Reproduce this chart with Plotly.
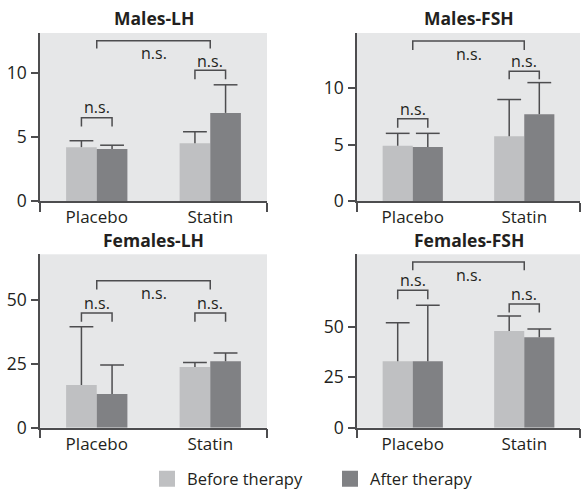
import plotly.graph_objects as go

groups = ["Placebo", "Statin"]
series_names = ["Before therapy", "After therapy"]
panel_titles = ["Males-LH", "Males-FSH", "Females-LH", "Females-FSH"]

# bar means (Placebo, Statin)
males_lh_before = [4.2, 4.5]
males_lh_after = [4.06, 6.87]
males_fsh_before = [4.9, 5.75]
males_fsh_after = [4.78, 7.7]
females_lh_before = [16.7, 23.8]
females_lh_after = [13.2, 26.1]
females_fsh_before = [33.0, 47.9]
females_fsh_after = [33.0, 44.9]

# upper error (SD) lengths
males_lh_before_err = [0.5, 0.9]
males_lh_after_err = [0.29, 2.19]
males_fsh_before_err = [1.1, 3.25]
males_fsh_after_err = [1.22, 2.8]
females_lh_before_err = [22.9, 1.8]
females_lh_after_err = [11.4, 3.2]
females_fsh_before_err = [19.0, 7.5]
females_fsh_after_err = [27.7, 4.0]

# significance annotations: [placebo pair, statin pair, between groups]
sig_labels = ["n.s.", "n.s.", "n.s."]
males_lh_sig_hi = [6.5, 10.2, 12.5]
males_lh_sig_lo = [5.8, 9.5, 11.9]
males_lh_sig_txt = [7.3, 10.9, 11.55]
males_fsh_sig_hi = [7.3, 11.5, 14.2]
males_fsh_sig_lo = [6.5, 10.8, 13.4]
males_fsh_sig_txt = [8.2, 12.4, 13.05]
females_lh_sig_hi = [45.0, 45.0, 57.6]
females_lh_sig_lo = [41.5, 41.5, 54.2]
females_lh_sig_txt = [49.0, 49.0, 52.9]
females_fsh_sig_hi = [68.2, 61.4, 82.2]
females_fsh_sig_lo = [63.7, 57.1, 78.1]
females_fsh_sig_txt = [73.1, 66.5, 75.9]

y_max = [13.1, 14.9, 68.0, 86.0]
y_ticks = [[0, 5, 10], [0, 5, 10], [0, 25, 50], [0, 25, 50]]

panels = [
    (males_lh_before, males_lh_after, males_lh_before_err, males_lh_after_err,
     males_lh_sig_hi, males_lh_sig_lo, males_lh_sig_txt),
    (males_fsh_before, males_fsh_after, males_fsh_before_err, males_fsh_after_err,
     males_fsh_sig_hi, males_fsh_sig_lo, males_fsh_sig_txt),
    (females_lh_before, females_lh_after, females_lh_before_err, females_lh_after_err,
     females_lh_sig_hi, females_lh_sig_lo, females_lh_sig_txt),
    (females_fsh_before, females_fsh_after, females_fsh_before_err, females_fsh_after_err,
     females_fsh_sig_hi, females_fsh_sig_lo, females_fsh_sig_txt),
]

W, H = 581, 493
FONT = "Open Sans"
TXT = "#231f20"
LINE = "#4d4d4f"
C_BEFORE = "#bfc0c2"
C_AFTER = "#808184"
BG = "#e6e7e8"

x_dom = [(40 / W, 267 / W), (357 / W, 580 / W)]
y_dom = [(1 - 201 / H, 1 - 33 / H), (1 - 427.7 / H, 1 - 254.3 / H)]

BARGAP = 0.46
half = (1 - BARGAP) / 4  # offset of each bar centre from group centre
xpos = list(range(len(groups)))

fig = go.Figure()
layout = {}
annotations = []

for i, (b, a, be, ae, hi, lo, tt) in enumerate(panels):
    n = i + 1
    xa = "x" if n == 1 else f"x{n}"
    ya = "y" if n == 1 else f"y{n}"
    col, row = i % 2, i // 2
    series = [(b, be, series_names[0], C_BEFORE, -half),
              (a, ae, series_names[1], C_AFTER, half)]
    for vals, errs, name, color, off in series:
        fig.add_trace(go.Bar(
            x=xpos, y=vals, name=name, marker=dict(color=color, line=dict(width=0)),
            error_y=dict(type="data", array=errs, arrayminus=[0] * len(errs),
                         symmetric=False, color=LINE, thickness=1.5, width=0),
            xaxis=xa, yaxis=ya, showlegend=False, hoverinfo="skip"))
    for vals, errs, name, color, off in series:
        # cross-bar caps at the top of each error bar
        fig.add_trace(go.Scatter(
            x=[p + off for p in xpos], y=[v + e for v, e in zip(vals, errs)],
            mode="markers",
            marker=dict(symbol="line-ew", size=17,
                        line=dict(color=LINE, width=1.5)),
            xaxis=xa, yaxis=ya, showlegend=False, hoverinfo="skip"))
    # brackets
    spans = [(xpos[0] - half, xpos[0] + half), (xpos[1] - half, xpos[1] + half),
             (xpos[0], xpos[1])]
    for k, (x0, x1) in enumerate(spans):
        fig.add_trace(go.Scatter(
            x=[x0, x0, x1, x1], y=[lo[k], hi[k], hi[k], lo[k]], mode="lines",
            line=dict(color=LINE, width=1.5), xaxis=xa, yaxis=ya,
            showlegend=False, hoverinfo="skip"))
        annotations.append(dict(
            x=(x0 + x1) / 2, y=tt[k], xref=xa, yref=ya, text=sig_labels[k],
            showarrow=False, xanchor="center", yanchor="middle",
            font=dict(family=FONT, size=16, color=TXT)))
    # title
    annotations.append(dict(
        x=(x_dom[col][0] + x_dom[col][1]) / 2,
        y=1 - (18 if row == 0 else 240) / H, xref="paper", yref="paper",
        text=f"<b>{panel_titles[i]}</b>", showarrow=False,
        xanchor="center", yanchor="middle",
        font=dict(family=FONT, size=17.5, color=TXT)))
    layout["xaxis" if n == 1 else f"xaxis{n}"] = dict(
        domain=list(x_dom[col]), anchor=ya, range=[-0.5, 1.5], automargin=False,
        tickvals=xpos, ticktext=groups, ticks="", showgrid=False, zeroline=False,
        showline=True, linecolor=LINE, linewidth=1.5,
        minor=dict(tickvals=[-0.5, 1.5], ticks="outside", ticklen=9,
                   tickcolor=LINE, tickwidth=1.5, showgrid=False),
        tickfont=dict(family=FONT, size=17, color=TXT), fixedrange=True)
    layout["yaxis" if n == 1 else f"yaxis{n}"] = dict(
        domain=list(y_dom[row]), anchor=xa, range=[0, y_max[i]], automargin=False,
        tickvals=y_ticks[i], ticks="outside", ticklen=7, tickwidth=1.5,
        tickcolor=LINE, showgrid=False, zeroline=False, ticklabelstandoff=1,
        showline=True, linecolor=LINE, linewidth=1.5,
        tickfont=dict(family=FONT, size=17.5, color=TXT), fixedrange=True)

# legend entries
for name, color in [(series_names[0], C_BEFORE), (series_names[1], C_AFTER)]:
    fig.add_trace(go.Scatter(
        x=[None], y=[None], mode="markers", name=name,
        marker=dict(symbol="square", size=16, color=color),
        showlegend=True, xaxis="x", yaxis="y"))

fig.update_layout(
    width=W, height=H, margin=dict(l=0, r=0, t=0, b=0, autoexpand=False),
    paper_bgcolor="white", plot_bgcolor=BG,
    barmode="group", bargap=BARGAP, bargroupgap=0,
    annotations=annotations,
    legend=dict(orientation="h", x=147 / W, xanchor="left",
                y=1 - 479 / H, yanchor="middle",
                font=dict(family=FONT, size=16.5, color=TXT),
                entrywidth=138, entrywidthmode="pixels",
                bgcolor="rgba(0,0,0,0)"),
    **layout)

fig.write_html(
    "out.html",
    config={"displayModeBar": False},
    post_script="document.body.style.margin='0';document.body.style.overflow='hidden';")
